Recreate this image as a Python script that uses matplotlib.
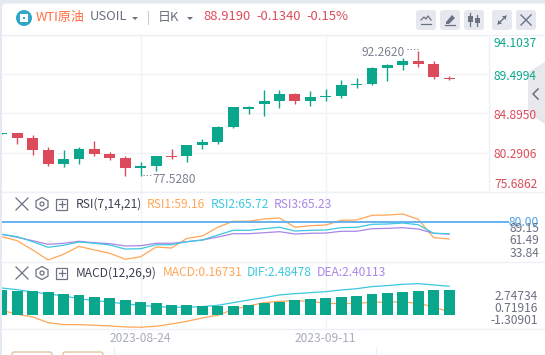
import matplotlib
matplotlib.use("Agg")
import matplotlib.pyplot as plt
from matplotlib.patches import FancyBboxPatch, Circle, Polygon, Rectangle

plt.rcParams['font.family'] = ['Noto Sans CJK SC', 'DejaVu Sans']

W, H = 545, 355
GREEN, RED = '#0aa78c', '#dc4b5b'
ORANGE, CYAN, PURPLE = '#ffa657', '#3cc8e0', '#a887e8'
GRID = '#f2f3f7'
GRAY = '#6b7080'

idx = list(range(-1, 29))
opens = [82.52,82.60,82.02,80.61,79.00,79.55,80.73,80.14,79.67,78.53,78.77,79.91,79.94,81.20,81.55,83.31,85.42,86.01,86.36,87.18,86.36,86.86,86.94,88.23,88.35,90.23,90.58,91.05,90.70,89.05]
highs = [82.62,82.60,82.37,80.96,80.61,80.96,81.67,80.38,79.91,79.20,79.91,80.73,81.20,81.90,83.43,85.65,85.77,87.65,87.65,87.30,87.53,87.77,88.82,89.06,90.35,90.70,91.40,92.262,91.05,89.33]
lows = [82.52,81.35,80.02,78.77,78.65,79.00,79.94,79.44,77.60,77.528,78.18,79.55,79.24,80.73,81.35,83.19,84.83,84.60,85.54,86.01,85.77,86.36,86.71,87.88,88.23,88.70,89.99,90.35,88.94,88.85]
closes = [82.60,82.05,80.61,79.00,79.55,80.73,80.18,79.67,78.53,78.73,79.91,79.79,81.20,81.55,83.31,85.65,85.62,86.36,87.18,86.36,86.83,86.94,88.23,88.35,90.23,90.58,91.05,90.73,89.17,88.92]

rsi1 = [62.0,57.0,45.4,32.9,40.0,50.0,45.4,41.3,33.8,37.0,49.1,47.9,60.0,62.9,73.8,81.3,81.3,84.1,85.4,73.8,75.8,76.6,82.5,82.9,88.8,89.1,90.4,83.8,60.8,59.16]
rsi2 = [65.0,62.0,55.8,48.8,51.3,55.4,53.8,51.6,46.6,47.0,52.0,52.0,55.8,57.9,64.1,70.0,70.0,72.0,73.8,69.1,70.0,70.4,73.3,73.8,77.5,77.9,79.1,77.0,66.3,65.72]
rsi3 = [65.0,61.3,57.0,52.5,53.8,56.3,54.5,53.3,50.4,50.8,53.8,53.8,55.8,57.9,61.6,65.8,65.8,67.0,68.3,65.4,66.3,66.6,68.8,68.8,72.0,72.5,73.3,71.6,66.3,65.23]

macd_bars = [2.24,2.15,2.15,2.06,1.88,1.79,1.61,1.52,1.33,1.15,1.06,.88,.88,.79,.79,.79,.88,1.06,1.15,1.33,1.42,1.52,1.61,1.70,1.88,1.97,2.06,2.15,2.24,2.24]
dif = [2.42,2.27,2.06,1.88,1.70,1.45,1.27,1.15,.97,.85,.73,.67,.67,.73,.85,1.09,1.33,1.55,1.79,1.91,2.0,2.09,2.24,2.36,2.55,2.64,2.76,2.82,2.70,2.58]
macd_line = [.39,.03,-.21,-.73,-.91,-.91,-.97,-1.03,-1.12,-1.15,-1.06,-.85,-.61,-.30,-.06,.48,.79,1.09,1.21,1.27,1.21,1.03,1.0,1.03,1.12,1.15,1.15,1.03,.70,.24]

price_ticks = [75.6862, 80.2906, 84.8950, 89.4994, 94.1037]
date_idx = [8, 20]
date_labels = ['2023-08-24', '2023-09-11']

fig = plt.figure(figsize=(W/100, H/100), dpi=100, facecolor='#e4e8f0')

def make_ax(l, t, r, b, **kw):
    return fig.add_axes([l/W, 1-b/H, (r-l)/W, (b-t)/H], **kw)

# white card
bg = make_ax(0, 0, W, H)
bg.set_xlim(0, W); bg.set_ylim(H, 0); bg.axis('off'); bg.set_zorder(0)
bg.add_patch(FancyBboxPatch((2, 3.5), W, H, boxstyle='round,pad=0,rounding_size=4', fc='white', ec='none'))

XL = (-0.992, 30.52)

def style(ax):
    ax.set_xlim(*XL)
    ax.patch.set_alpha(0)
    for s in ax.spines.values():
        s.set_visible(False)
    ax.tick_params(length=0, labelleft=False, labelbottom=False, left=False, bottom=False)
    ax.set_xticks(date_idx)
    ax.grid(axis='x', color=GRID, lw=1)
    ax.set_axisbelow(True)

# price panel
ax = make_ax(2, 35, 488, 192)
style(ax)
ax.set_zorder(1)
ax.set_ylim(price_ticks[0], price_ticks[-1])
ax.set_yticks(price_ticks)
ax.grid(axis='y', color=GRID, lw=1)
colors = [GREEN if c >= o else RED for o, c in zip(opens, closes)]
ax.vlines(idx, lows, highs, colors=colors, lw=1.0)
for i, o, c, col in zip(idx, opens, closes, colors):
    ax.bar(i, max(abs(c-o), 0.08), bottom=min(o, c), width=0.71, color=col, lw=0)

# RSI panel
ax2 = make_ax(2, 192, 488, 262)
style(ax2)
ax2.set_zorder(1)
ax2.set_ylim(30.4, 117.9)
ax2.set_yticks([])
ax2.plot(idx, rsi1, color=ORANGE, lw=0.9)
ax2.plot(idx, rsi3, color=PURPLE, lw=0.9)
ax2.plot(idx, rsi2, color=CYAN, lw=0.9)
ax2.plot([XL[0], 31.85], [80, 80], color='#5aaef0', lw=1.3, clip_on=False, solid_capstyle='butt')

# MACD panel
ax3 = make_ax(2, 262, 488, 329)
style(ax3)
ax3.set_zorder(1)
ax3.set_ylim(-1.30901, 4.79)
ax3.set_yticks([])
ax3.plot(idx, dif, color=CYAN, lw=0.9, zorder=2)
ax3.plot(idx, macd_line, color=ORANGE, lw=0.9, zorder=2)
ax3.bar(idx, macd_bars, width=0.71, color=GREEN, lw=0, zorder=3)

# overlay in pixel coordinates: header, labels, icons
ov = make_ax(0, 0, W, H)
ov.set_xlim(0, W); ov.set_ylim(H, 0); ov.axis('off'); ov.set_zorder(5)

SEP = '#eef0f5'
for y in (35, 192, 262, 329):
    ov.plot([2, W], [y, y], color=SEP, lw=1)
ov.plot([488.5, 488.5], [35, 192], color=SEP, lw=1)

def txt(x, y, s, c, size=12, ha='left'):
    ov.text(x, y, s, color=c, fontsize=size*0.72, ha=ha, va='center')

# header
ov.add_patch(Circle((24, 18), 8, fc='#2fa8c8', ec='none'))
ov.add_patch(Rectangle((20, 14), 8, 8, fc='white', ec='none'))
ov.add_patch(Rectangle((23, 17), 2, 2, fc='#2fa8c8', ec='none'))
txt(36, 17, 'WTI原油', '#ff7043', 13)
txt(90, 17, 'USOIL', GRAY, 13)
ov.add_patch(Polygon([[132, 17], [138, 17], [135, 20]], fc=GRAY, ec='none'))
ov.plot([148, 148], [11, 24], color='#c9ccd6', lw=0.8)
txt(158, 17, '日K', GRAY, 13)
ov.add_patch(Polygon([[187, 17], [193, 17], [190, 20]], fc=GRAY, ec='none'))
txt(203, 17, '88.9190', RED, 13)
txt(256, 17, '-0.1340', RED, 13)
txt(306, 17, '-0.15%', RED, 13)

# toolbar
for x in (416, 440, 464, 492, 516):
    ov.add_patch(FancyBboxPatch((x, 10), 20, 20, boxstyle='round,pad=0,rounding_size=3', fc='#e6e8ef', ec='none'))
ic = '#6d7282'
ov.plot([421, 424, 426, 428, 431], [20, 17, 19, 16, 20], color=ic, lw=0.9)
ov.plot([421, 431], [23.5, 23.5], color=ic, lw=0.9)
ov.add_patch(Polygon([[446, 22], [452, 15], [455, 18], [449, 24], [446, 24]], fc=ic, ec='none'))
ov.plot([445, 455], [25, 25], color=ic, lw=0.9)
for x, t0, b0, t1, b1 in ((470, 16, 22, 13, 26), (477, 18, 23, 15, 26)):
    ov.add_patch(Rectangle((x-2.5, t0), 5, b0-t0, fc=ic, ec='none'))
    ov.plot([x, x], [t1, b1], color=ic, lw=0.9)
ov.plot([498, 506], [24, 16], color=ic, lw=1)
ov.add_patch(Polygon([[498, 24], [498, 20], [502, 24]], fc=ic, ec='none'))
ov.add_patch(Polygon([[506, 16], [502, 16], [506, 20]], fc=ic, ec='none'))
ov.plot([521, 531], [15, 25], color=ic, lw=1)
ov.plot([521, 531], [25, 15], color=ic, lw=1)

# collapse tab
ov.add_patch(Polygon([[545, 62], [528, 72], [528, 113], [545, 124]], fc='#e8e8ec', ec='none'))
ov.plot([538, 533, 538], [89, 94, 99], color=GRAY, lw=1.1)

# price labels
txt(494, 43.5, '94.1037', GREEN)
txt(494, 77, '89.4994', GREEN)
txt(494, 115.5, '84.8950', RED)
txt(494, 155, '80.2906', RED)
txt(494, 184, '75.6862', RED)
txt(362, 52, '92.2620', '#7d8190')
ov.plot([407, 418], [49, 49], color='#7d8190', lw=0.8, ls=(0, (1, 2)))
txt(152, 179.5, '77.5280', '#7d8190')
ov.plot([143, 151], [175, 175], color='#7d8190', lw=0.8, ls=(0, (1, 2)))

# indicator labels
def panel_icons(y):
    ov.plot([16, 28], [y-6, y+6], color=ic, lw=0.9)
    ov.plot([16, 28], [y+6, y-6], color=ic, lw=0.9)
    ov.add_patch(Polygon([[42, y-6.5], [48, y-3.2], [48, y+3.2], [42, y+6.5], [36, y+3.2], [36, y-3.2]], fc='none', ec=ic, lw=0.9))
    ov.add_patch(Circle((42, y), 2, fc='none', ec=ic, lw=0.9))
    ov.add_patch(Rectangle((56, y-5.5), 11, 11, fc='none', ec=ic, lw=0.9))
    ov.plot([58.5, 64.5], [y, y], color=ic, lw=0.9)
    ov.plot([61.5, 61.5], [y-3, y+3], color=ic, lw=0.9)

panel_icons(204)
txt(76, 204.5, 'RSI(7,14,21)', '#3c4050')
txt(147, 204.5, 'RSI1:59.16', ORANGE)
txt(211, 204.5, 'RSI2:65.72', CYAN)
txt(274, 204.5, 'RSI3:65.23', PURPLE)
txt(539, 222, '80.00', '#4aa3e8', ha='right')
txt(539, 228, '89.15', GRAY, ha='right')
txt(539, 240, '61.49', GRAY, ha='right')
txt(539, 253.5, '33.84', GRAY, ha='right')

panel_icons(273)
txt(76, 273, 'MACD(12,26,9)', '#3c4050')
txt(163, 273, 'MACD:0.16731', ORANGE)
txt(247, 273, 'DIF:2.48478', CYAN)
txt(317, 273, 'DEA:2.40113', PURPLE)
txt(538, 296, '2.74734', GRAY, ha='right')
txt(538, 308, '0.71916', GRAY, ha='right')
txt(538, 321, '-1.30901', GRAY, ha='right')

# dates under the time scale positions
for i, s in zip(date_idx, date_labels):
    x = ax.transData.transform((i, 0))[0]
    txt(x, 339, s, '#a8acb8', ha='center')

# bottom tabs
for x0, x1 in ((12, 52), (63, 103)):
    ov.add_patch(FancyBboxPatch((x0, 352), x1-x0, 8, boxstyle='round,pad=0,rounding_size=2', fc='none', ec='#d9b98a', lw=0.8))
ov.plot([114, 114], [347, 355], color=SEP, lw=1)
ov.plot([376, 376], [347, 355], color=SEP, lw=1)

fig.savefig('out.png', dpi=100, facecolor=fig.get_facecolor())
